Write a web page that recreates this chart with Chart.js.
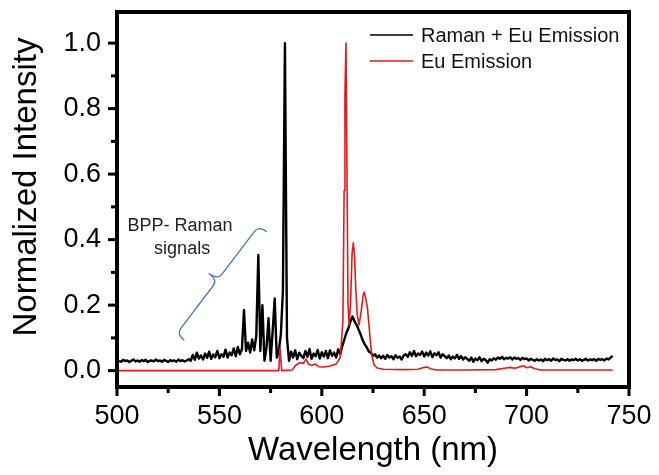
<!DOCTYPE html>
<html>
<head>
<meta charset="utf-8">
<script src="https://cdn.jsdelivr.net/npm/chart.js@4.4.1/dist/chart.umd.min.js"></script>
<style>
    html, body { margin: 0; padding: 0; background: #fff; }
    canvas { display: block; }
</style>
</head>
<body>
<canvas id="spectrum" width="659" height="475"></canvas>
<script>
// Raman + Eu emission: sampled every 1 nm starting at 501 nm
const blackStart = 501;
const blackIntensity = [
    0.030, 0.027, 0.033, 0.029, 0.031, 0.026, 0.030, 0.034, 0.028, 0.031,
    0.027, 0.032, 0.029, 0.033, 0.026, 0.030, 0.031, 0.028, 0.034, 0.029,
    0.031, 0.027, 0.033, 0.030, 0.026, 0.032, 0.029, 0.031, 0.027, 0.034,
    0.029, 0.032, 0.028, 0.031, 0.035, 0.030, 0.048, 0.033, 0.055, 0.037,
    0.046, 0.034, 0.052, 0.039, 0.058, 0.036, 0.049, 0.041, 0.060, 0.038,
    0.050, 0.042, 0.064, 0.040, 0.055, 0.047, 0.068, 0.044, 0.072, 0.050,
    0.065, 0.185, 0.060, 0.085, 0.055, 0.095, 0.062, 0.105, 0.353, 0.060,
    0.200, 0.030, 0.070, 0.160, 0.030, 0.120, 0.220, 0.040, 0.060, 0.110,
    0.240, 1.000, 0.100, 0.030, 0.058, 0.040, 0.062, 0.035, 0.055, 0.045,
    0.038, 0.060, 0.042, 0.066, 0.036, 0.052, 0.044, 0.063, 0.037, 0.056,
    0.043, 0.060, 0.038, 0.062, 0.045, 0.055, 0.040, 0.065, 0.050, 0.075,
    0.095, 0.115, 0.130, 0.150, 0.165, 0.150, 0.140, 0.125, 0.110, 0.092,
    0.080, 0.070, 0.058, 0.055, 0.045, 0.050, 0.040, 0.046, 0.038, 0.045,
    0.036, 0.048, 0.040, 0.044, 0.035, 0.047, 0.039, 0.043, 0.034, 0.046,
    0.050, 0.042, 0.056, 0.045, 0.060, 0.044, 0.052, 0.048, 0.058, 0.043,
    0.055, 0.046, 0.059, 0.041, 0.053, 0.047, 0.056, 0.040, 0.050, 0.044,
    0.038, 0.046, 0.035, 0.043, 0.037, 0.048, 0.036, 0.044, 0.034, 0.041,
    0.036, 0.030, 0.040, 0.027, 0.037, 0.032, 0.041, 0.029, 0.036, 0.033,
    0.024, 0.035, 0.031, 0.038, 0.033, 0.040, 0.036, 0.042, 0.035, 0.039,
    0.037, 0.041, 0.034, 0.040, 0.036, 0.038, 0.033, 0.039, 0.035, 0.037,
    0.031, 0.036, 0.033, 0.030, 0.035, 0.031, 0.034, 0.029, 0.036, 0.032,
    0.035, 0.030, 0.037, 0.032, 0.034, 0.029, 0.036, 0.033, 0.031, 0.035,
    0.030, 0.034, 0.032, 0.036, 0.031, 0.035, 0.030, 0.033, 0.036, 0.031,
    0.034, 0.032, 0.035, 0.030, 0.036, 0.033, 0.035, 0.031, 0.037, 0.034,
    0.040, 0.045
];

// Eu emission only
const redWavelength = [
    500, 540, 579, 579.6, 580.4, 585.5, 587.5, 589.5, 591, 592.3,
    593.5, 595, 596.8, 598.5, 601, 604, 607, 609, 610.3, 610.9,
    611.3, 611.8, 612.3, 612.8, 613.3, 614, 614.8, 615.4, 616, 616.6,
    617.3, 618.2, 619.2, 620.2, 620.7, 621.5, 622.3, 623.3, 624.3, 625.5,
    627, 630, 640, 647, 650, 651.5, 653, 656, 670, 685,
    690, 692, 694, 696, 698.5, 700, 702, 704, 707, 742
];
const redIntensity = [
    0.000, 0.000, 0.000, 0.070, 0.000, 0.002, 0.018, 0.025, 0.022, 0.035,
    0.020, 0.016, 0.020, 0.012, 0.011, 0.014, 0.020, 0.040, 0.150, 0.550,
    0.840, 1.000, 0.600, 0.200, 0.140, 0.200, 0.360, 0.390, 0.350, 0.250,
    0.170, 0.140, 0.180, 0.230, 0.240, 0.220, 0.190, 0.120, 0.050, 0.018,
    0.008, 0.004, 0.003, 0.004, 0.010, 0.011, 0.006, 0.002, 0.002, 0.003,
    0.008, 0.010, 0.007, 0.010, 0.015, 0.009, 0.012, 0.006, 0.002, 0.002
];

const xMajor = [500, 550, 600, 650, 700, 750];
const xMinor = [525, 575, 625, 675, 725];
const yMajor = [0, 0.2, 0.4, 0.6, 0.8, 1.0];
const yMinor = [0.1, 0.3, 0.5, 0.7, 0.9];

const seriesLabels = ['Raman + Eu Emission', 'Eu Emission'];
const noteLines = ['BPP- Raman', 'signals'];

const FONT = '"Liberation Sans", Arial, sans-serif';

const blackPoints = blackIntensity.map((v, i) => ({ x: blackStart + i, y: v }));
const redPoints = redWavelength.map((w, i) => ({ x: w, y: redIntensity[i] }));

// frame, tick marks, legend, y title and the brace note
const decorations = {
    id: 'decorations',
    afterDraw (chart) {
        const { ctx, chartArea: a, scales } = chart;
        const xs = scales.x, ys = scales.y;
        ctx.save();

        // ticks
        ctx.strokeStyle = '#000';
        ctx.lineWidth = 3;
        ctx.lineCap = 'butt';
        const tick = (x1, y1, x2, y2) => {
            ctx.beginPath(); ctx.moveTo(x1, y1); ctx.lineTo(x2, y2); ctx.stroke();
        };
        xMajor.forEach((v) => { const p = xs.getPixelForValue(v); tick(p, a.bottom, p, a.bottom + 9); });
        xMinor.forEach((v) => { const p = xs.getPixelForValue(v); tick(p, a.bottom, p, a.bottom + 6); });
        yMajor.forEach((v) => { const p = ys.getPixelForValue(v); tick(a.left, p, a.left - 9, p); });
        yMinor.forEach((v) => { const p = ys.getPixelForValue(v); tick(a.left, p, a.left - 6, p); });

        // frame
        ctx.lineWidth = 4;
        ctx.lineJoin = 'miter';
        ctx.strokeRect(a.left, a.top, a.right - a.left, a.bottom - a.top);

        // legend
        ctx.font = '20px ' + FONT;
        ctx.textBaseline = 'middle';
        ctx.textAlign = 'left';
        chart.data.datasets.forEach((ds, i) => {
            const y = 35 + i * 26;
            ctx.strokeStyle = ds.borderColor;
            ctx.lineWidth = 1.6;
            tick(370, y, 413, y);
            ctx.fillStyle = '#111';
            ctx.fillText(ds.label, 421, y + 1);
        });

        // y axis title
        ctx.save();
        ctx.translate(27, 187);
        ctx.rotate(-Math.PI / 2);
        ctx.font = '33px ' + FONT;
        ctx.textAlign = 'center';
        ctx.fillStyle = '#000';
        ctx.fillText('Normalized Intensity', 0, 0);
        ctx.restore();

        // note text
        ctx.font = '18px ' + FONT;
        ctx.textAlign = 'center';
        ctx.textBaseline = 'alphabetic';
        ctx.fillStyle = '#222';
        ctx.fillText(noteLines[0], xs.getPixelForValue(530.8), ys.getPixelForValue(0.425));
        ctx.fillText(noteLines[1], xs.getPixelForValue(531.8), ys.getPixelForValue(0.356));

        // curly brace from (532.9, 0.093) to (573.1, 0.424)
        const ax = xs.getPixelForValue(532.9), ay = ys.getPixelForValue(0.093);
        const bx = xs.getPixelForValue(573.1), by = ys.getPixelForValue(0.424);
        const len = Math.hypot(bx - ax, by - ay);
        const ux = (bx - ax) / len, uy = (by - ay) / len;
        const nx = uy, ny = -ux;
        const P = (s, t) => [ax + ux * s + nx * t, ay + uy * s + ny * t];
        const arm = 10, tip = 21, r = 7, half = len / 2;
        ctx.strokeStyle = '#4a72c0';
        ctx.lineWidth = 1.3;
        ctx.beginPath();
        ctx.moveTo(...P(0, 0));
        ctx.quadraticCurveTo(...P(0, arm), ...P(r, arm));
        ctx.lineTo(...P(half - r, arm));
        ctx.quadraticCurveTo(...P(half, arm), ...P(half, tip));
        ctx.quadraticCurveTo(...P(half, arm), ...P(half + r, arm));
        ctx.lineTo(...P(len - r, arm));
        ctx.quadraticCurveTo(...P(len, arm), ...P(len, 0));
        ctx.stroke();

        ctx.restore();
    }
};

const ctx = document.getElementById('spectrum').getContext('2d');
new Chart(ctx, {
    type: 'line',
    data: {
        datasets: [{
            label: seriesLabels[0],
            data: blackPoints,
            borderColor: '#000000',
            borderWidth: 2.4,
            order: 1
        }, {
            label: seriesLabels[1],
            data: redPoints,
            borderColor: '#e41a1a',
            borderWidth: 1.6,
            order: 0
        }]
    },
    options: {
        responsive: false,
        animation: false,
        devicePixelRatio: 1,
        parsing: false,
        elements: {
            point: { radius: 0 },
            line: { tension: 0, borderJoinStyle: 'round' }
        },
        layout: { padding: { top: 12, right: 30, left: 0, bottom: 0 } },
        plugins: {
            legend: { display: false },
            tooltip: { enabled: false }
        },
        scales: {
            x: {
                type: 'linear',
                min: 500,
                max: 750,
                grid: { display: false, drawTicks: false },
                border: { display: false },
                afterBuildTicks: (scale) => { scale.ticks = xMajor.map((v) => ({ value: v })); },
                afterFit: (scale) => { scale.height = 88; scale.paddingLeft = 0; scale.paddingRight = 0; },
                ticks: {
                    font: { family: FONT, size: 27 },
                    color: '#000',
                    padding: 13,
                    maxRotation: 0,
                    callback: (v) => String(v)
                },
                title: {
                    display: true,
                    text: 'Wavelength (nm)',
                    font: { family: FONT, size: 33 },
                    color: '#000',
                    padding: { top: 0, bottom: 4 }
                }
            },
            y: {
                type: 'linear',
                min: -0.05,
                max: 1.095,
                grid: { display: false, drawTicks: false },
                border: { display: false },
                afterBuildTicks: (scale) => { scale.ticks = yMajor.map((v) => ({ value: v })); },
                afterFit: (scale) => { scale.width = 117; scale.paddingTop = 0; scale.paddingBottom = 0; },
                ticks: {
                    font: { family: FONT, size: 27 },
                    color: '#000',
                    padding: 16,
                    callback: (v) => v.toFixed(1)
                }
            }
        }
    },
    plugins: [decorations]
});
</script>
</body>
</html>
